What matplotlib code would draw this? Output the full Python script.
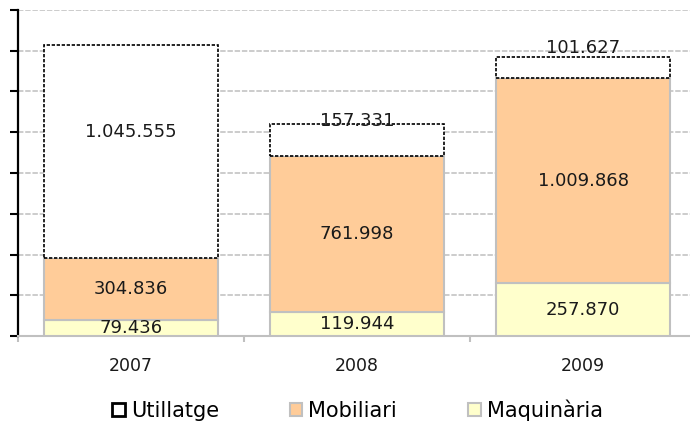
import numpy as np
import matplotlib.pyplot as plt
from matplotlib.patches import Patch

# data
years = ['2007', '2008', '2009']
maquinaria = [79436, 119944, 257870]
mobiliari = [304836, 761998, 1009868]
utillatge = [1045555, 157331, 101627]
yticks = np.arange(0, 1600001, 200000)


def fmt(v):
    return f'{v:,}'.replace(',', '.')


fig = plt.figure(figsize=(6.9, 4.28), dpi=100)
ax = fig.add_axes([18/690, 1-336/428, 672/690, 326/428])

x = np.arange(len(years))
w = 0.77
grey = '#c0c0c0'

b1 = ax.bar(x, maquinaria, w, color='#ffffcc', edgecolor=grey, lw=1.5, zorder=3)
bottom2 = np.array(maquinaria)
b2 = ax.bar(x, mobiliari, w, bottom=bottom2, color='#ffcc99', edgecolor=grey, lw=1.5, zorder=3)
bottom3 = bottom2 + np.array(mobiliari)
b3 = ax.bar(x, utillatge, w, bottom=bottom3, color='white', edgecolor='black',
            lw=1.2, ls=(0, (2, 1)), zorder=3)

# labels
for i in range(len(years)):
    ax.text(x[i], maquinaria[i]/2, fmt(maquinaria[i]), ha='center', va='center',
            fontsize=13, color='#1a1a1a', zorder=5)
    ax.text(x[i], bottom2[i] + mobiliari[i]/2, fmt(mobiliari[i]), ha='center', va='center',
            fontsize=13, color='#1a1a1a', zorder=5)
    ax.annotate(fmt(utillatge[i]), (x[i], bottom3[i] + utillatge[i]/2),
                xytext=(0, 14), textcoords='offset points', ha='center', va='center',
                fontsize=13, color='#1a1a1a', zorder=5)

ax.set_ylim(0, 1600000)
ax.set_xlim(-0.5, 2.5 - 6/226)
ax.set_yticks(yticks)
ax.set_yticklabels([])
ax.tick_params(axis='y', direction='out', length=6, width=1.5, color='black')
ax.set_xticks(x)
ax.set_xticklabels(years, fontsize=12.5, color='#1a1a1a')
ax.tick_params(axis='x', length=0, pad=15)
ax.set_xticks([-0.5, 0.5, 1.5], minor=True)
ax.tick_params(axis='x', which='minor', length=4, width=1.5, color=grey)

ax.grid(axis='y', color='#c8c8c8', lw=1.3, ls=(0, (3, 1)), zorder=0)
ax.spines['top'].set_visible(False)
ax.spines['right'].set_visible(False)
ax.spines['left'].set_linewidth(1.6)
ax.spines['bottom'].set_color(grey)
ax.spines['bottom'].set_linewidth(1.5)

handles = [
    Patch(facecolor='white', edgecolor='black', lw=2),
    Patch(facecolor='#ffcc99', edgecolor=grey, lw=1.5),
    Patch(facecolor='#ffffcc', edgecolor=grey, lw=1.5),
]
fig.legend(handles, ['Utillatge', 'Mobiliari', 'Maquinària'], loc='center',
           bbox_to_anchor=(0.518, 0.042), ncol=3, frameon=False, fontsize=15,
           handlelength=0.6, handleheight=0.6, handletextpad=0.3, columnspacing=3.4)

fig.savefig('out.png', dpi=100)
